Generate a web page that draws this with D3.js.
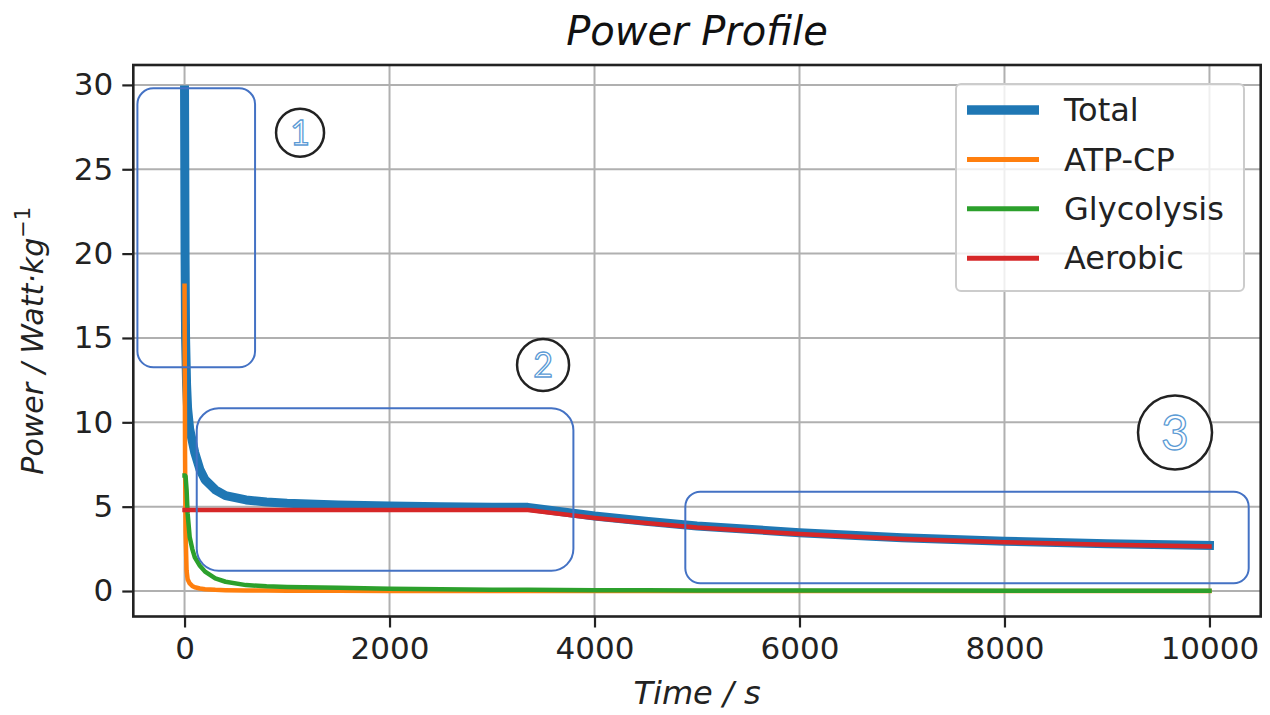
<!DOCTYPE html>
<html>
<head>
<meta charset="utf-8">
<script src="https://cdn.jsdelivr.net/npm/d3@7"></script>
<style>
  body { margin: 0; background: #fff; }
  svg { display: block; font-family: "DejaVu Sans", sans-serif; }
</style>
</head>
<body>
<svg id="chart" width="1270" height="715"></svg>
<script>
// time points (s)
const times = [0, 5, 10, 20, 30, 50, 75, 100, 150, 200, 300, 400, 600, 800, 1000,
  1500, 2000, 2500, 3000, 3350, 4000, 4500, 5000, 6000, 7000, 8000, 9000, 10000];

const totalPower = [29.7, 20, 15, 12.2, 10.8, 9.6, 8.9, 8.2, 7.2, 6.6, 6.0, 5.65, 5.4, 5.28, 5.2,
  5.1, 5.04, 5.0, 4.97, 4.96, 4.45, 4.14, 3.86, 3.46, 3.16, 2.95, 2.8, 2.7];
const atpcpPower = [18.1, 8, 3.5, 1.2, 0.7, 0.45, 0.3, 0.22, 0.15, 0.11, 0.07, 0.05, 0.035, 0.025, 0.02,
  0.012, 0.008, 0.006, 0.005, 0.004, 0.003, 0.003, 0.002, 0.002, 0.001, 0.001, 0.001, 0.001];
const glycolysisPower = [6.85, 6.85, 6.8, 6.0, 4.6, 3.2, 2.5, 2.0, 1.5, 1.15, 0.75, 0.55, 0.35, 0.28, 0.24,
  0.2, 0.14, 0.1, 0.08, 0.07, 0.05, 0.04, 0.035, 0.03, 0.025, 0.02, 0.02, 0.02];
const aerobicPower = [4.8, 4.8, 4.8, 4.8, 4.8, 4.8, 4.8, 4.8, 4.8, 4.8, 4.8, 4.8, 4.8, 4.8, 4.8,
  4.8, 4.8, 4.8, 4.8, 4.8, 4.33, 4.03, 3.76, 3.38, 3.08, 2.89, 2.74, 2.64];

const seriesNames = ["Total", "ATP-CP", "Glycolysis", "Aerobic"];
const xTicks = [0, 2000, 4000, 6000, 8000, 10000];
const yTicks = [0, 5, 10, 15, 20, 25, 30];

// annotation overlays, in data units
const boxes = [
  { t0: -460, t1: 688, p0: 13.26, p1: 29.8, r: 16 },
  { t0: 119, t1: 3794, p0: 1.2, p1: 10.83, r: 22 },
  { t0: 4886, t1: 10383, p0: 0.46, p1: 5.89, r: 15 }
];
const markers = [
  { label: "1", t: 1127, p: 27.17, r: 24, size: 34 },
  { label: "2", t: 3498, p: 13.4, r: 26, size: 34 },
  { label: "3", t: 9664, p: 9.4, r: 37, size: 48 }
];

const colors = ["#1f77b4", "#ff7f0e", "#2ca02c", "#d62728"];
const widths = [9, 4.5, 4.5, 4.5];
const seriesValues = [totalPower, atpcpPower, glycolysisPower, aerobicPower];

const plot = { left: 133.3, right: 1260.7, top: 65, bottom: 616.5 };

const svg = d3.select("#chart");

const x = d3.scaleLinear().domain([-500, 10500]).range([plot.left, plot.right]);
const y = d3.scaleLinear().domain([-1.51, 31.18]).range([plot.bottom, plot.top]);

svg.append("defs").append("clipPath").attr("id", "clip")
  .append("rect")
  .attr("x", plot.left).attr("y", plot.top)
  .attr("width", plot.right - plot.left).attr("height", plot.bottom - plot.top);

// grid
const grid = svg.append("g");
grid.selectAll(".gx").data(xTicks).join("line")
  .attr("x1", d => x(d)).attr("x2", d => x(d))
  .attr("y1", plot.top).attr("y2", plot.bottom)
  .attr("stroke", "#b0b0b0").attr("stroke-width", 2);
grid.selectAll(".gy").data(yTicks).join("line")
  .attr("x1", plot.left).attr("x2", plot.right)
  .attr("y1", d => y(d)).attr("y2", d => y(d))
  .attr("stroke", "#b0b0b0").attr("stroke-width", 2);

// lines
const line = d3.line()
  .x((d, i) => x(times[i]))
  .y(d => y(d));

const lines = svg.append("g").attr("clip-path", "url(#clip)");
seriesValues.forEach((vals, k) => {
  lines.append("path")
    .datum(vals)
    .attr("d", line)
    .attr("fill", "none")
    .attr("stroke", colors[k])
    .attr("stroke-width", widths[k])
    .attr("stroke-linejoin", "round")
    .attr("stroke-linecap", "square");
});

// axes
const xAxis = d3.axisBottom(x).tickValues(xTicks).tickSize(11).tickPadding(9).tickFormat(d3.format("d"));
const yAxis = d3.axisLeft(y).tickValues(yTicks).tickSize(11).tickPadding(9);

const gx = svg.append("g").attr("transform", `translate(0,${plot.bottom})`).call(xAxis);
const gy = svg.append("g").attr("transform", `translate(${plot.left},0)`).call(yAxis);
[gx, gy].forEach(g => {
  g.select(".domain").remove();
  g.selectAll(".tick line").attr("stroke", "#222").attr("stroke-width", 2.2);
  g.selectAll(".tick text").attr("fill", "#222").style("font-size", "31px")
    .style("font-family", "DejaVu Sans");
});

// frame
svg.append("rect")
  .attr("x", plot.left).attr("y", plot.top)
  .attr("width", plot.right - plot.left).attr("height", plot.bottom - plot.top)
  .attr("fill", "none").attr("stroke", "#222").attr("stroke-width", 2.6);

// titles
svg.append("text")
  .attr("x", (plot.left + plot.right) / 2).attr("y", 45)
  .attr("text-anchor", "middle")
  .style("font-size", "40px").style("font-style", "italic")
  .attr("fill", "#111")
  .text("Power Profile");

svg.append("text")
  .attr("x", (plot.left + plot.right) / 2).attr("y", 704)
  .attr("text-anchor", "middle")
  .style("font-size", "32px").style("font-style", "italic")
  .attr("fill", "#222")
  .text("Time / s");

const yl = svg.append("text")
  .attr("transform", `translate(43,${(plot.top + plot.bottom) / 2}) rotate(-90)`)
  .attr("text-anchor", "middle")
  .style("font-size", "30px").attr("fill", "#222");
yl.append("tspan").style("font-style", "italic").text("Power / Watt\u00b7kg");
yl.append("tspan").attr("dy", -13).style("font-size", "21px").text("\u22121");

// annotation boxes
svg.append("g").selectAll("rect").data(boxes).join("rect")
  .attr("x", d => x(d.t0)).attr("y", d => y(d.p1))
  .attr("width", d => x(d.t1) - x(d.t0))
  .attr("height", d => y(d.p0) - y(d.p1))
  .attr("rx", d => d.r).attr("ry", d => d.r)
  .attr("fill", "none").attr("stroke", "#4472c4").attr("stroke-width", 2);

const mk = svg.append("g").selectAll("g").data(markers).join("g")
  .attr("transform", d => `translate(${x(d.t)},${y(d.p)})`);
mk.append("circle").attr("r", d => d.r)
  .attr("fill", "white").attr("stroke", "#222").attr("stroke-width", 2.5);
mk.append("text")
  .attr("text-anchor", "middle").attr("dy", "0.36em")
  .style("font-size", d => d.size + "px").style("font-family", "Lato, sans-serif")
  .attr("fill", "white").attr("stroke", "#5b9bd5").attr("stroke-width", 1.3)
  .text(d => d.label);

// legend
const leg = svg.append("g");
leg.append("rect")
  .attr("x", 956).attr("y", 84).attr("width", 288).attr("height", 207)
  .attr("rx", 5).attr("fill", "white").attr("fill-opacity", 0.8)
  .attr("stroke", "#cccccc").attr("stroke-width", 2);
const rows = leg.selectAll("g.row").data(seriesNames).join("g")
  .attr("transform", (d, i) => `translate(0,${110 + i * 49.4})`);
rows.append("line")
  .attr("x1", 967).attr("x2", 1039)
  .attr("stroke", (d, i) => colors[i])
  .attr("stroke-width", (d, i) => widths[i] + 0.5);
rows.append("text")
  .attr("x", 1064).attr("dy", "0.35em")
  .style("font-size", "32px").attr("fill", "#222")
  .text(d => d);
</script>
</body>
</html>
